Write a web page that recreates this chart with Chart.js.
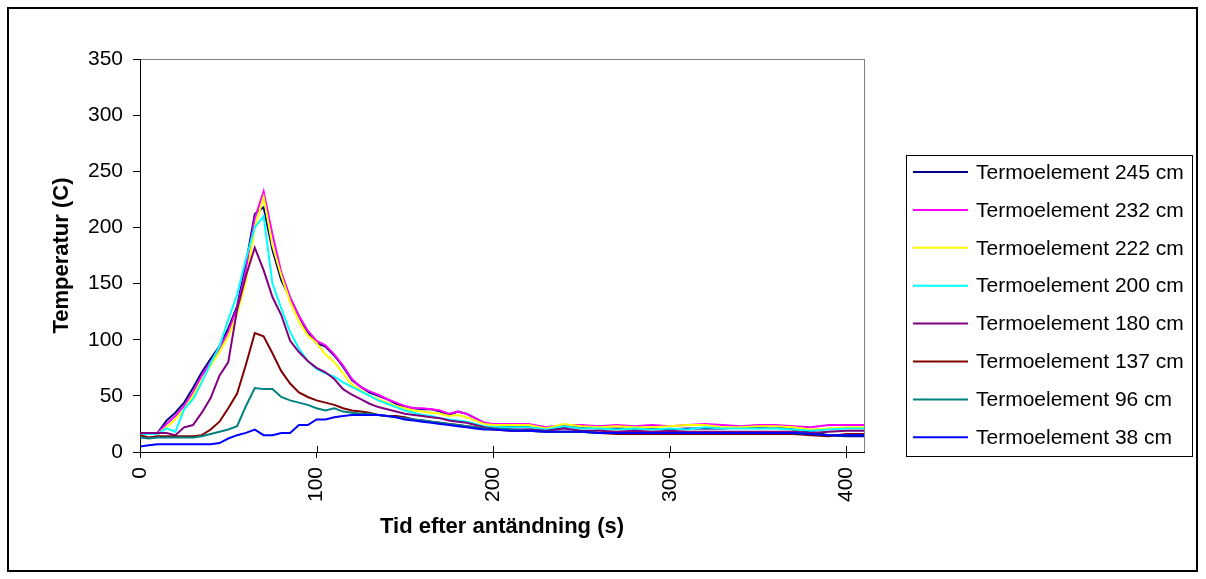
<!DOCTYPE html>
<html>
<head>
<meta charset="utf-8">
<script src="https://cdn.jsdelivr.net/npm/chart.js@4"></script>
<style>
  html, body { margin: 0; padding: 0; background: #fff; }
  #wrap { width: 1206px; height: 579px; }
</style>
</head>
<body>
<div id="wrap"><canvas id="tempChart" width="1206" height="579"></canvas></div>
<script>
// time after ignition (s)
const times = [0, 5, 10, 15, 20, 25, 30, 35, 40, 45, 50, 55, 60, 65, 70, 75, 80, 85, 90, 95,
  100, 105, 110, 115, 120, 125, 130, 135, 140, 145, 150, 155, 160, 165, 170, 175, 180, 185, 190, 195, 200,
  210, 220, 230, 240, 250, 260, 270, 280, 290, 300, 310, 320, 330, 340, 350, 360, 370, 380, 390, 400, 410];

const seriesLabels = ['Termoelement 245 cm', 'Termoelement 232 cm', 'Termoelement 222 cm', 'Termoelement 200 cm',
  'Termoelement 180 cm', 'Termoelement 137 cm', 'Termoelement 96 cm', 'Termoelement 38 cm'];
const seriesColors = ['#000080', '#FF00FF', '#FFFF00', '#00FFFF', '#800080', '#800000', '#008080', '#0000FF'];

const t245 = [16, 16, 17, 28, 35, 44, 57, 71, 83, 94, 110, 130, 168, 212, 218, 180, 153, 137, 121, 106,
  97, 94, 86, 76, 64, 58, 53, 50, 47, 43, 40, 39, 38, 38, 36, 33, 36, 34, 30, 26, 24,
  23, 22, 20, 22, 22, 21, 21, 21, 21, 20, 21, 21, 21, 22, 22, 23, 20, 18, 15, 14, 14];
const t232 = [16, 16, 17, 25, 32, 41, 53, 68, 80, 92, 107, 128, 162, 208, 232, 194, 160, 138, 121, 108,
  99, 95, 87, 77, 65, 58, 54, 51, 47, 44, 41, 39, 39, 38, 37, 34, 36, 34, 30, 26, 25,
  25, 25, 22, 24, 24, 23, 24, 23, 24, 23, 24, 25, 24, 23, 24, 24, 23, 22, 24, 24, 24];
const t222 = [16, 16, 16, 22, 29, 38, 50, 64, 77, 89, 103, 123, 152, 200, 227, 184, 157, 134, 116, 104,
  97, 87, 80, 70, 60, 55, 50, 47, 44, 41, 39, 37, 36, 35, 34, 32, 33, 31, 28, 25, 24,
  24, 24, 21, 25, 23, 22, 23, 22, 22, 23, 24, 24, 22, 22, 23, 23, 22, 20, 21, 22, 22];
const t200 = [16, 16, 16, 21, 18, 38, 47, 62, 79, 94, 118, 140, 172, 200, 210, 150, 128, 107, 92, 81,
  74, 70, 67, 62, 58, 54, 50, 46, 43, 40, 37, 35, 33, 32, 30, 29, 28, 27, 25, 23, 22,
  22, 22, 20, 23, 21, 21, 20, 21, 20, 21, 20, 22, 21, 21, 21, 21, 20, 19, 20, 21, 21];
const t180 = [17, 17, 17, 17, 15, 22, 24, 35, 48, 68, 80, 127, 157, 182, 162, 138, 122, 99, 89, 81,
  75, 71, 65, 56, 51, 47, 43, 40, 38, 36, 34, 33, 32, 31, 30, 28, 27, 26, 24, 22, 21,
  20, 20, 19, 21, 19, 19, 18, 19, 18, 19, 18, 18, 18, 18, 18, 18, 18, 17, 18, 19, 19];
const t137 = [15, 13, 14, 14, 14, 14, 14, 15, 20, 27, 39, 52, 78, 106, 103, 88, 72, 61, 53, 49,
  46, 44, 42, 39, 37, 36, 35, 33, 32, 32, 31, 29, 28, 27, 26, 25, 24, 23, 22, 21, 20,
  19, 19, 18, 18, 18, 17, 16, 16, 16, 16, 16, 16, 16, 16, 16, 16, 16, 15, 14, 16, 16];
const t96 = [13, 12, 13, 13, 13, 13, 13, 14, 16, 18, 20, 23, 41, 57, 56, 56, 49, 46, 44, 42,
  39, 37, 39, 36, 35, 34, 34, 33, 32, 31, 30, 29, 28, 27, 26, 25, 24, 23, 22, 21, 21,
  20, 19, 18, 18, 18, 17, 17, 17, 17, 17, 17, 17, 17, 17, 17, 17, 17, 16, 15, 15, 15];
const t38 = [5, 6, 7, 7, 7, 7, 7, 7, 7, 8, 12, 15, 17, 20, 15, 15, 17, 17, 24, 24,
  29, 29, 31, 32, 33, 33, 33, 33, 32, 31, 29, 28, 27, 26, 25, 24, 23, 22, 21, 20, 20,
  19, 19, 18, 18, 18, 17, 17, 17, 17, 17, 17, 17, 17, 17, 17, 17, 17, 16, 15, 15, 15];

const seriesValues = [t245, t232, t222, t200, t180, t137, t96, t38];
const xTicks = [0, 100, 200, 300, 400];

const FONT = '"Liberation Sans", Arial, sans-serif';

// white page, outer frame and grey plot-area box
const framePlugin = {
  id: 'frame',
  beforeDraw(chart) {
    const ctx = chart.ctx;
    const a = chart.chartArea;
    ctx.save();
    ctx.fillStyle = '#fff';
    ctx.fillRect(0, 0, chart.width, chart.height);
    ctx.strokeStyle = '#000';
    ctx.lineWidth = 2;
    ctx.strokeRect(8, 8, 1189, 563);
    ctx.strokeStyle = '#808080';
    ctx.lineWidth = 1;
    ctx.strokeRect(Math.round(a.left) + 0.5, Math.round(a.top) + 0.5, Math.round(a.right - a.left), Math.round(a.bottom - a.top));
    ctx.restore();
  },
  afterDraw(chart) {
    // x ticks cross the axis: add the inner half
    const ctx = chart.ctx;
    const xs = chart.scales.x;
    const bottom = chart.chartArea.bottom;
    ctx.save();
    ctx.strokeStyle = '#000';
    ctx.lineWidth = 1;
    xs.ticks.forEach(t => {
      const px = Math.round(xs.getPixelForValue(t.value)) + 0.5;
      ctx.beginPath();
      ctx.moveTo(px, bottom - 6);
      ctx.lineTo(px, bottom);
      ctx.stroke();
    });
    ctx.restore();
  }
};

// boxed legend on the right
const legendBox = {
  id: 'legendBox',
  afterDraw(chart) {
    const ctx = chart.ctx;
    ctx.save();
    ctx.strokeStyle = '#000';
    ctx.lineWidth = 1;
    ctx.strokeRect(906.5, 155.5, 286, 301);
    ctx.font = '21px ' + FONT;
    ctx.textBaseline = 'middle';
    chart.data.datasets.forEach((ds, i) => {
      const y = 172 + i * 37.9;
      ctx.strokeStyle = ds.borderColor;
      ctx.lineWidth = 2;
      ctx.beginPath();
      ctx.moveTo(913, y);
      ctx.lineTo(968, y);
      ctx.stroke();
      ctx.fillStyle = '#000';
      ctx.fillText(ds.label, 976, y + 1);
    });
    ctx.restore();
  }
};

const datasets = seriesValues.map((vals, i) => ({
  label: seriesLabels[i],
  data: vals.map((v, j) => ({ x: times[j], y: v })),
  borderColor: seriesColors[i],
  backgroundColor: seriesColors[i],
  borderWidth: 2,
  pointRadius: 0,
  tension: 0,
  order: seriesValues.length - i
}));

new Chart(document.getElementById('tempChart'), {
  type: 'line',
  data: { datasets },
  options: {
    responsive: false,
    animation: false,
    layout: { padding: { left: 49, top: 59, right: 342, bottom: 39 } },
    plugins: {
      legend: { display: false },
      tooltip: { enabled: false }
    },
    scales: {
      x: {
        type: 'linear',
        min: 0,
        max: 410,
        afterBuildTicks: s => { s.ticks = xTicks.map(v => ({ value: v })); },
        afterFit: s => { s.height = 88; },
        ticks: {
          minRotation: 90,
          maxRotation: 90,
          padding: 9,
          color: '#000',
          font: { family: FONT, size: 21 }
        },
        grid: { drawOnChartArea: false, drawTicks: true, tickLength: 6, color: '#000' },
        border: { color: '#000', width: 1 },
        title: {
          display: true,
          text: 'Tid efter antändning (s)',
          color: '#000',
          padding: 0,
          font: { family: FONT, size: 22, weight: 'bold' }
        }
      },
      y: {
        min: 0,
        max: 350,
        afterFit: s => { s.width = 91; },
        ticks: {
          stepSize: 50,
          padding: 10,
          color: '#000',
          font: { family: FONT, size: 21 }
        },
        grid: { drawOnChartArea: false, drawTicks: true, tickLength: 7, color: '#000' },
        border: { color: '#000', width: 1 },
        title: {
          display: true,
          text: 'Temperatur (C)',
          color: '#000',
          padding: 0,
          font: { family: FONT, size: 22, weight: 'bold' }
        }
      }
    }
  },
  plugins: [framePlugin, legendBox]
});
</script>
</body>
</html>
